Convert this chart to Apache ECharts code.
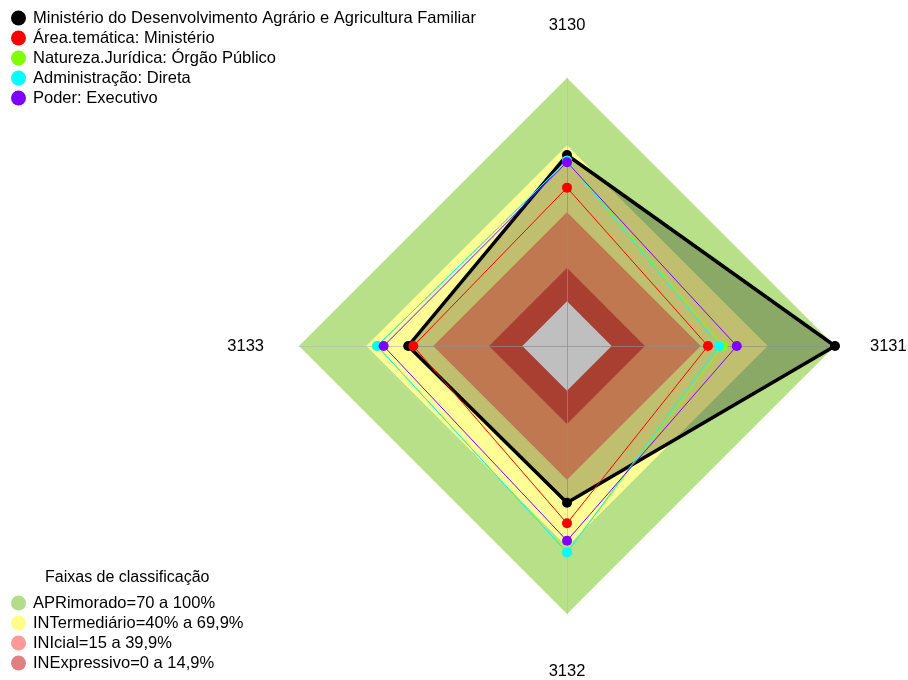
<!DOCTYPE html>
<html>
<head>
    <meta charset="utf-8">
    <title>Radar</title>
    <script src="https://cdn.jsdelivr.net/npm/echarts@6/dist/echarts.min.js"></script>
</head>
<body style="margin:0">
<div id="main" style="width: 908px; height: 680px;"></div>
<script type="text/javascript">
    // eixos (ordem anti-horaria do echarts: topo, esquerda, baixo, direita)
    var indicadores = ['3130', '3133', '3132', '3131'];

    var nomesSeries = [
        'Ministério do Desenvolvimento Agrário e Agricultura Familiar',
        'Área.temática: Ministério',
        'Natureza.Jurídica: Órgão Público',
        'Administração: Direta',
        'Poder: Executivo'
    ];
    var coresSeries = ['#000000', '#ff0000', '#80ff00', '#00ffff', '#8000ff'];

    // valores em % na ordem de indicadores
    var ministerio = [65.5, 51.1, 50.2, 100];
    var areaTematica = [50.9, 48.8, 59.4, 43.1];
    var naturezaJuridica = [63, 65, 72.3, 49.7];
    var administracao = [63, 65, 72.5, 48.2];
    var poder = [62.3, 62.1, 67.2, 56];
    var valores = [ministerio, areaTematica, naturezaJuridica, administracao, poder];

    // faixas de classificacao
    var faixas = ['APRimorado=70 a 100%', 'INTermediário=40% a 69,9%', 'INIcial=15 a 39,9%', 'INExpressivo=0 a 14,9%'];
    var limitesFaixas = [100, 69.9, 39.9, 14.9, 0];
    var coresLegendaFaixas = ['#b3dd8a', '#ffff88', '#ff9999', '#e08080'];
    var coresFaixas = ['#b8e088', '#ffff95', '#ffa06b', '#e05540', '#ffffff'];

    var myChart = echarts.init(document.getElementById('main'));

    var series = [];
    for (var i = 0; i < limitesFaixas.length; i++) {
        var v = limitesFaixas[i];
        var nome = faixas[i] || 'centro';
        series.push({
            name: nome,
            type: 'radar',
            z: 1,
            silent: true,
            symbol: 'none',
            itemStyle: { color: coresLegendaFaixas[i] || '#ffffff' },
            lineStyle: { width: 0, opacity: 0 },
            areaStyle: { color: coresFaixas[i], opacity: 1 },
            data: [{ value: [v, v, v, v], name: nome }]
        });
    }
    for (var k = 0; k < nomesSeries.length; k++) {
        var principal = k === 0;
        series.push({
            name: nomesSeries[k],
            type: 'radar',
            z: 3 + k,
            symbol: 'circle',
            symbolSize: 10,
            itemStyle: { color: coresSeries[k] },
            lineStyle: { color: coresSeries[k], width: principal ? 3.5 : 1 },
            areaStyle: principal ? { color: 'rgba(0,0,0,0.25)', opacity: 1 } : null,
            data: [{ value: valores[k], name: nomesSeries[k] }]
        });
    }

    var fonte = '"Liberation Sans", Arial, sans-serif';

    var option = {
        backgroundColor: '#ffffff',
        animation: false,
        textStyle: { fontFamily: fonte },
        title: {
            text: 'Faixas de classificação',
            left: 45,
            top: 570,
            padding: 0,
            textStyle: { fontSize: 16, fontWeight: 'normal', color: '#000', fontFamily: fonte }
        },
        legend: [
            {
                orient: 'vertical',
                left: 11,
                top: 8,
                padding: 0,
                icon: 'circle',
                itemWidth: 19,
                itemHeight: 15,
                itemGap: 0,
                textStyle: { fontSize: 16.5, lineHeight: 20, color: '#000', fontFamily: fonte },
                data: nomesSeries.map(function (n, i) {
                    return { name: n, itemStyle: { color: coresSeries[i] } };
                })
            },
            {
                orient: 'vertical',
                left: 11,
                top: 593,
                height: 87,
                padding: 0,
                icon: 'circle',
                itemWidth: 19,
                itemHeight: 15,
                itemGap: 0,
                selectedMode: false,
                textStyle: { fontSize: 16.5, lineHeight: 20, color: '#000', fontFamily: fonte },
                data: faixas.map(function (n, i) {
                    return { name: n, itemStyle: { color: coresLegendaFaixas[i] } };
                })
            }
        ],
        radar: {
            z: 2,
            center: [567, 346],
            radius: 268,
            startAngle: 90,
            shape: 'polygon',
            splitNumber: 1,
            nameGap: 35,
            axisName: {
                color: '#000',
                fontSize: 16.5,
                fontFamily: fonte,
                padding: [14, 0, 9, 0]
            },
            indicator: indicadores.map(function (n) {
                return { name: n, min: -20, max: 100 };
            }),
            axisLine: { lineStyle: { color: 'rgba(190,190,190,0.7)', width: 1 } },
            splitLine: { show: false },
            splitArea: { show: false },
            axisTick: { show: false },
            axisLabel: { show: false }
        },
        series: series
    };

    myChart.setOption(option);
</script>
</body>
</html>
